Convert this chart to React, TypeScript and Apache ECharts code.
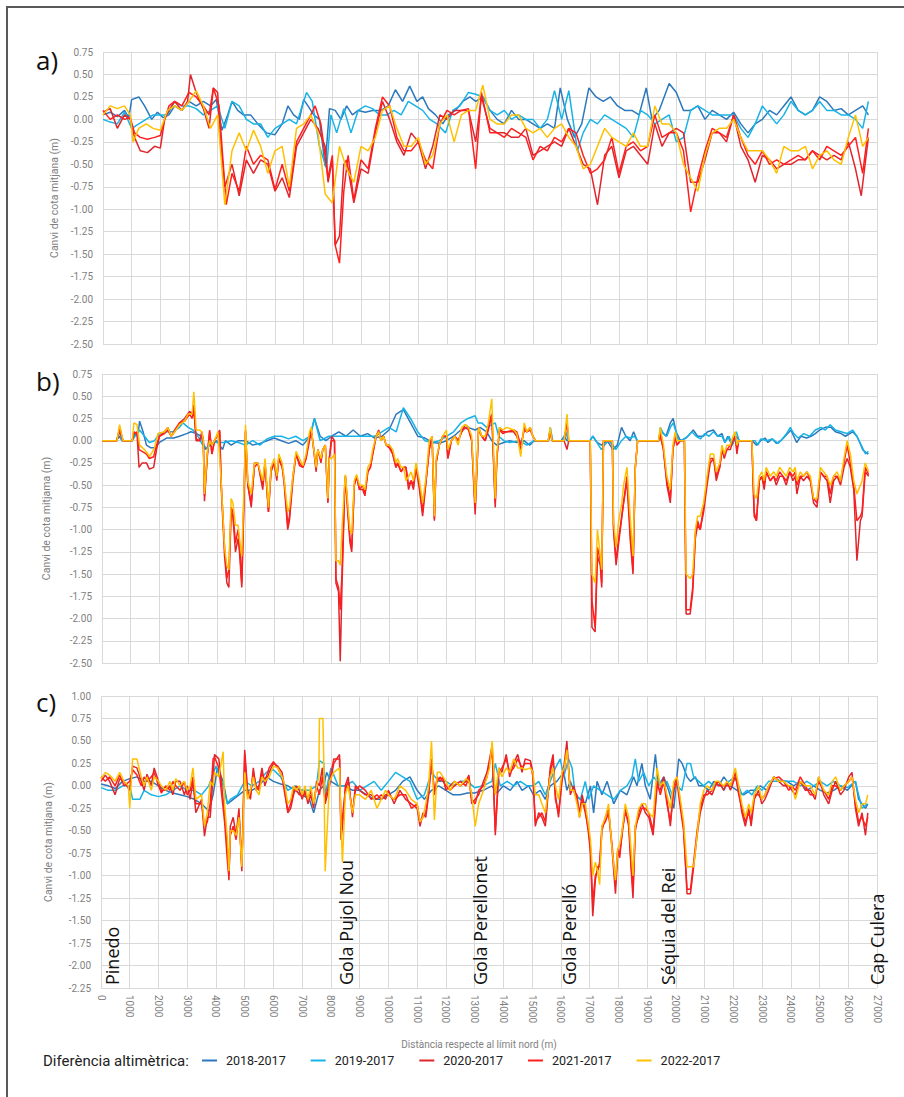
import React, { useEffect, useRef } from "react";
import * as echarts from "echarts";

type Pt = [number, number];

const seriesNames = ["2018-2017", "2019-2017", "2020-2017", "2021-2017", "2022-2017"];
const seriesColors = ["#2b78bd", "#17b3e6", "#e0262c", "#ff1f1f", "#ffc000"];
const panelLabels = ["a)", "b)", "c)"];
const yAxisNames = ["Canvi de cota mitjana (m)", "Canvi de cota mitjama (m)", "Canvi de cota mitjana (m)"];
const yMins = [-2.5, -2.5, -2.25];
const yMaxs = [0.75, 0.75, 1.0];
const placeNames = ["Pinedo", "Gola Pujol Nou", "Gola Perellonet", "Gola Perelló", "Séquia del Rei", "Cap Culera"];
const placeDistances = [400, 8520, 13170, 16300, 19740, 27000];

// ---------- panel a ----------
const a2018: Pt[] = [[0,0.05],[250,0.08],[500,0.03],[750,0.1],[900,0.02],[1000,0.22],[1250,0.25],[1450,0.15],[1700,0.0],[1900,0.08],[2100,0.02],[2300,0.05],[2500,0.15],[2750,0.1],[3000,0.2],[3250,0.15],[3500,0.2],[3750,0.15],[3950,0.22],[4150,-0.12],[4350,0.05],[4500,0.2],[4700,0.1],[4900,0.05],[5150,0.05],[5400,-0.05],[5700,-0.15],[6000,-0.17],[6250,-0.05],[6450,0.15],[6650,0.05],[6850,0.0],[7000,0.22],[7150,0.15],[7350,0.05],[7550,0.0],[7750,-0.52],[7900,0.12],[8100,0.1],[8300,0.0],[8500,0.15],[8700,0.05],[8900,0.1],[9150,0.08],[9400,0.1],[9700,0.1],[9950,0.15],[10200,0.33],[10450,0.2],[10700,0.37],[10950,0.2],[11150,0.25],[11350,0.12],[11600,0.05],[11850,-0.05],[12050,0.05],[12300,0.1],[12550,0.2],[12800,0.25],[13000,0.2],[13250,0.25],[13500,0.1],[13750,0.0],[14000,-0.05],[14250,0.1],[14500,0.0],[14750,0.0],[15000,-0.05],[15250,-0.1],[15500,-0.05],[15750,-0.1],[15950,0.35],[16200,0.0],[16450,-0.2],[16700,-0.05],[16950,0.35],[17200,0.25],[17450,0.2],[17700,0.25],[17950,0.15],[18200,0.1],[18450,0.1],[18700,0.05],[18950,0.35],[19150,0.0],[19400,0.1],[19750,0.4],[20000,0.3],[20250,0.1],[20500,0.1],[20750,0.15],[21000,0.0],[21250,0.1],[21500,0.05],[21750,0.0],[22000,0.08],[22250,-0.05],[22500,-0.15],[22750,-0.05],[23000,0.0],[23250,0.1],[23500,0.05],[23750,0.15],[24000,0.25],[24250,0.1],[24500,0.05],[24750,0.1],[25000,0.25],[25250,0.2],[25500,0.1],[25750,0.12],[26000,0.05],[26250,0.1],[26500,0.15],[26700,0.05]];
const a2019: Pt[] = [[0,0.0],[250,-0.03],[500,-0.05],[750,0.08],[1000,-0.1],[1250,-0.05],[1500,0.0],[1750,0.05],[2000,0.05],[2250,0.05],[2500,0.2],[2750,0.15],[3000,0.15],[3250,0.12],[3500,0.05],[3750,0.1],[4000,0.15],[4250,-0.1],[4500,0.2],[4750,0.15],[5000,0.0],[5250,-0.05],[5500,-0.05],[5750,-0.2],[6000,-0.1],[6250,-0.05],[6500,0.0],[6750,-0.05],[7000,0.2],[7100,0.3],[7300,0.2],[7550,-0.3],[7800,-0.55],[7950,0.05],[8150,-0.15],[8400,0.12],[8650,-0.15],[8900,0.1],[9150,0.15],[9400,0.12],[9650,0.05],[9900,0.05],[10150,0.1],[10400,0.05],[10650,0.2],[10900,0.15],[11150,0.1],[11400,0.0],[11650,-0.05],[11950,-0.15],[12200,0.1],[12450,0.15],[12750,0.3],[13000,0.28],[13250,0.25],[13500,0.1],[13750,0.05],[14000,0.1],[14250,0.0],[14500,0.05],[14750,0.0],[15000,0.0],[15250,-0.1],[15500,0.0],[15750,0.32],[16000,0.0],[16250,0.32],[16550,-0.35],[16750,-0.15],[17000,0.0],[17250,-0.05],[17500,0.05],[17750,0.0],[18000,-0.05],[18250,-0.1],[18500,-0.2],[18750,0.1],[19000,0.05],[19250,-0.05],[19500,0.0],[19750,0.05],[20000,-0.25],[20250,-0.2],[20500,0.1],[20750,0.15],[21000,0.1],[21250,0.05],[21500,0.05],[21750,0.05],[22000,0.05],[22250,-0.1],[22500,-0.2],[22750,-0.05],[23000,0.15],[23250,0.05],[23500,-0.05],[23750,0.05],[24000,0.2],[24250,0.1],[24500,0.05],[24750,0.1],[25000,0.2],[25250,0.1],[25500,0.1],[25750,0.05],[26000,0.05],[26250,0.0],[26500,-0.1],[26700,0.2]];
const a2020: Pt[] = [[0,0.08],[250,0.12],[500,-0.1],[750,0.05],[950,0.0],[1100,-0.2],[1300,-0.35],[1550,-0.37],[1800,-0.3],[2000,-0.32],[2150,0.0],[2300,0.1],[2500,0.2],[2750,0.1],[2950,0.2],[3050,0.5],[3250,0.3],[3500,0.12],[3700,-0.1],[3850,0.35],[4000,0.3],[4100,-0.25],[4250,-0.75],[4500,-0.5],[4750,-0.85],[5000,-0.45],[5250,-0.6],[5500,-0.45],[5750,-0.5],[6000,-0.8],[6250,-0.65],[6500,-0.87],[6750,-0.3],[7000,-0.15],[7250,0.0],[7500,-0.1],[7750,-0.3],[7850,-0.7],[8000,-0.45],[8100,-1.4],[8250,-1.3],[8400,-0.5],[8500,-0.45],[8750,-0.93],[9000,-0.55],[9250,-0.6],[9500,-0.15],[9750,0.2],[10000,0.0],[10250,-0.25],[10500,-0.4],[10750,-0.15],[11000,-0.25],[11250,-0.55],[11500,-0.3],[11750,0.05],[12000,0.0],[12250,0.1],[12500,0.1],[12750,0.1],[13000,-0.25],[13200,0.25],[13500,-0.1],[13750,-0.15],[14000,-0.15],[14250,-0.2],[14500,-0.2],[14750,-0.1],[15000,-0.4],[15250,-0.35],[15500,-0.3],[15750,-0.25],[16000,-0.3],[16250,-0.1],[16500,-0.3],[16750,-0.5],[17000,-0.55],[17250,-0.95],[17500,-0.4],[17750,-0.3],[18000,-0.65],[18250,-0.35],[18500,-0.3],[18750,-0.4],[19000,-0.5],[19250,-0.05],[19500,-0.3],[19750,-0.15],[20000,-0.1],[20250,-0.15],[20500,-0.7],[20750,-0.7],[21000,-0.45],[21250,-0.15],[21500,-0.15],[21750,-0.25],[22000,0.05],[22250,-0.3],[22500,-0.45],[22750,-0.7],[23000,-0.4],[23250,-0.45],[23500,-0.55],[23750,-0.5],[24000,-0.5],[24250,-0.45],[24500,-0.45],[24750,-0.35],[25000,-0.4],[25250,-0.45],[25500,-0.4],[25750,-0.45],[26000,-0.25],[26250,-0.55],[26450,-0.85],[26700,-0.2]];
const a2021: Pt[] = [[0,0.1],[250,0.0],[500,0.05],[750,0.0],[950,0.02],[1100,-0.15],[1300,-0.2],[1550,-0.22],[1800,-0.2],[2000,-0.18],[2150,0.0],[2300,0.15],[2500,0.2],[2750,0.15],[3000,0.3],[3250,0.25],[3500,0.15],[3700,0.05],[3850,0.35],[4050,0.15],[4150,-0.3],[4300,-0.95],[4500,-0.6],[4750,-0.8],[5000,-0.3],[5250,-0.5],[5500,-0.4],[5750,-0.45],[6000,-0.78],[6250,-0.5],[6500,-0.8],[6750,-0.25],[7000,-0.1],[7250,0.05],[7400,0.15],[7600,-0.05],[7850,-0.65],[8000,-0.4],[8100,-1.4],[8250,-1.6],[8400,-0.8],[8550,-0.4],[8750,-0.9],[9000,-0.45],[9250,-0.55],[9500,-0.1],[9750,0.25],[10000,0.15],[10250,-0.2],[10500,-0.35],[10750,-0.35],[11000,-0.25],[11250,-0.45],[11500,-0.55],[11750,-0.05],[12000,0.1],[12250,0.05],[12500,0.1],[12750,0.12],[13000,-0.55],[13200,0.3],[13500,-0.15],[13750,-0.15],[14000,-0.2],[14250,-0.1],[14500,-0.15],[14750,-0.2],[15000,-0.45],[15250,-0.3],[15500,-0.35],[15750,-0.2],[16000,-0.25],[16250,-0.1],[16500,-0.15],[16750,-0.4],[17000,-0.6],[17250,-0.55],[17500,-0.45],[17750,-0.2],[18000,-0.6],[18250,-0.3],[18500,-0.25],[18750,-0.35],[19000,-0.3],[19250,0.05],[19500,-0.2],[19750,-0.15],[20000,-0.15],[20250,-0.35],[20500,-1.03],[20750,-0.65],[21000,-0.35],[21250,-0.1],[21500,-0.15],[21750,-0.2],[22000,0.05],[22250,-0.2],[22500,-0.4],[22750,-0.5],[23000,-0.35],[23250,-0.5],[23500,-0.45],[23750,-0.5],[24000,-0.45],[24250,-0.4],[24500,-0.45],[24750,-0.35],[25000,-0.45],[25250,-0.3],[25500,-0.35],[25750,-0.4],[26000,-0.3],[26250,-0.2],[26500,-0.6],[26700,-0.1]];
const a2022: Pt[] = [[0,0.05],[250,0.15],[500,0.12],[750,0.15],[950,0.05],[1050,-0.25],[1250,-0.1],[1500,-0.05],[1750,-0.1],[2000,-0.12],[2250,0.1],[2500,0.15],[2750,0.1],[3000,0.2],[3250,0.32],[3500,0.15],[3750,-0.1],[4000,0.05],[4250,-0.95],[4500,-0.35],[4750,-0.15],[5000,-0.35],[5250,-0.12],[5500,-0.3],[5750,-0.6],[6000,-0.35],[6250,-0.3],[6500,-0.75],[6750,-0.1],[7000,-0.05],[7250,0.05],[7500,-0.15],[7750,-0.83],[8000,-0.93],[8250,-0.3],[8500,-0.55],[8750,-0.7],[9000,-0.3],[9250,-0.35],[9500,-0.2],[9750,0.1],[10000,0.15],[10250,-0.1],[10500,-0.3],[10750,-0.3],[11000,-0.2],[11250,-0.5],[11500,-0.4],[11750,-0.05],[12000,0.05],[12250,-0.25],[12500,0.05],[12750,0.1],[13000,0.1],[13250,0.38],[13500,0.0],[13750,-0.05],[14000,-0.05],[14250,0.05],[14500,0.05],[14750,-0.1],[15000,-0.15],[15250,-0.1],[15500,-0.2],[15750,-0.1],[16000,-0.05],[16250,-0.2],[16500,-0.3],[16750,-0.55],[17000,-0.5],[17250,-0.3],[17500,-0.1],[17750,-0.2],[18000,-0.25],[18250,-0.3],[18500,-0.15],[18750,-0.3],[19000,-0.3],[19250,0.15],[19500,-0.05],[19750,-0.05],[20000,-0.15],[20250,-0.5],[20500,-0.65],[20750,-0.8],[21000,-0.4],[21250,-0.15],[21500,-0.1],[21750,-0.1],[22000,0.0],[22250,-0.2],[22500,-0.35],[22750,-0.35],[23000,-0.35],[23250,-0.45],[23500,-0.6],[23750,-0.3],[24000,-0.35],[24250,-0.35],[24500,-0.3],[24750,-0.55],[25000,-0.4],[25250,-0.35],[25500,-0.45],[25750,-0.5],[26000,-0.2],[26250,0.05],[26500,-0.3],[26700,-0.2]];

// ---------- panel b ----------
const b2018: Pt[] = [[0,0],[500,0],[600,0.05],[700,0],[1050,0],[1150,0.08],[1250,0.05],[1310,0.22],[1430,0.1],[1550,-0.05],[1700,-0.08],[1850,-0.08],[2000,-0.02],[2250,0.03],[2500,0.03],[2700,0.05],[2950,0.08],[3100,0.1],[3300,0.08],[3450,0.05],[3600,-0.1],[3750,-0.05],[4000,0.0],[4200,-0.1],[4300,0.0],[4500,-0.05],[4750,0.0],[5000,0.0],[5250,-0.05],[5500,-0.03],[5750,0.0],[6000,0.03],[6250,0.0],[6500,-0.03],[6750,0.0],[7000,-0.05],[7250,0.05],[7400,0.25],[7600,0.05],[7800,0.0],[8000,0.05],[8250,0.1],[8500,0.05],[8750,0.12],[9000,0.05],[9250,0.08],[9500,0.03],[9750,0.05],[10000,0.12],[10250,0.3],[10500,0.35],[10750,0.2],[11000,0.05],[11250,0.03],[11500,-0.02],[11750,-0.03],[12000,0.0],[12250,0.05],[12500,0.12],[12750,0.15],[13000,0.12],[13170,0.15],[13400,0.1],[13580,0.0],[13750,-0.05],[14000,-0.02],[14200,0.0],[14450,-0.02],[14700,0.0],[14900,-0.05],[15050,0.0],[15550,0],[15620,0.1],[15700,0],[16000,0],[16100,0.05],[16200,0],[17000,0],[17100,0.05],[17250,-0.02],[17400,-0.05],[17600,0.0],[17800,-0.1],[17950,-0.05],[18100,0.15],[18250,0.05],[18400,0.0],[18520,0.1],[18650,0.0],[19400,0],[19500,0.1],[19650,0.05],[19800,0.2],[19900,0.25],[20000,0.1],[20150,0.0],[20350,0.03],[20500,0.08],[20600,0.12],[20750,0.05],[20950,0.05],[21100,0.1],[21300,0.12],[21450,0.05],[21600,0.08],[21700,-0.02],[21800,0.05],[21950,-0.05],[22100,0.05],[22200,0],[22650,0],[22800,-0.05],[22950,0.0],[23100,0.03],[23200,-0.02],[23350,0.02],[23500,-0.03],[23650,0.0],[23800,0.05],[24000,0.12],[24100,0.05],[24200,-0.02],[24350,0.05],[24550,0.03],[24700,0.05],[24850,0.08],[25000,0.12],[25200,0.15],[25400,0.15],[25550,0.1],[25750,0.08],[25900,0.05],[26050,0.08],[26150,0.1],[26300,0.05],[26400,-0.02],[26500,-0.1],[26600,-0.13],[26700,-0.15]];
const b2019: Pt[] = [[0,0],[500,0],[600,0.1],[700,0],[1050,0],[1150,0.05],[1250,0.08],[1310,0.12],[1480,0.05],[1650,-0.02],[1830,0.0],[2000,0.08],[2250,0.1],[2470,0.1],[2700,0.15],[2820,0.2],[3000,0.15],[3170,0.12],[3340,0.05],[3510,-0.05],[3650,-0.08],[3900,-0.02],[4250,-0.02],[4500,0.0],[4750,-0.02],[5000,-0.05],[5250,0.0],[5500,-0.05],[5750,0.02],[6000,0.05],[6250,0.05],[6500,0.02],[6750,0.05],[7000,0.0],[7250,0.05],[7400,0.25],[7600,0.0],[7900,0.05],[8250,0.05],[8500,0.05],[8750,0.05],[9000,0.05],[9250,0.05],[9500,0.05],[9750,0.1],[10000,0.15],[10250,0.1],[10500,0.37],[10750,0.25],[11000,0.1],[11250,0.0],[11500,-0.02],[11750,0.0],[12000,0.05],[12250,0.1],[12500,0.2],[12750,0.25],[13000,0.28],[13100,0.2],[13230,0.2],[13400,0.15],[13700,0.2],[13820,0.05],[14000,0.0],[14200,-0.02],[14550,0.0],[14800,-0.05],[15050,0.0],[15550,0],[15620,0.15],[15700,0],[16050,0],[16150,0.1],[16250,0],[17000,0],[17100,0.05],[17200,0.0],[17300,-0.05],[17400,-0.1],[17500,-0.05],[17650,0.0],[17800,-0.05],[17900,-0.1],[18000,-0.05],[18100,0.0],[18250,0.05],[18400,0.03],[18550,0.05],[18650,0.0],[19400,0],[19450,0.15],[19560,0.08],[19680,0.05],[19800,0.15],[19900,0.2],[20000,0.1],[20080,0.0],[20200,0.0],[20400,0.05],[20550,0.1],[20700,0.05],[20850,0.02],[21000,0.08],[21150,0.05],[21300,0.1],[21450,0.05],[21600,0.05],[21700,-0.02],[21850,0.05],[21950,-0.05],[22100,0.1],[22200,0],[22650,0],[22750,0.0],[22850,-0.05],[22950,0.02],[23150,0.0],[23350,0.02],[23550,-0.03],[23700,0.02],[23850,0.08],[23980,0.15],[24100,0.08],[24250,0.03],[24450,0.08],[24650,0.05],[24850,0.12],[25050,0.15],[25200,0.12],[25370,0.18],[25550,0.12],[25750,0.1],[25950,0.08],[26150,0.12],[26300,0.05],[26450,-0.05],[26600,-0.15],[26700,-0.12]];
const b2020: Pt[] = [[0,0],[520,0],[615,0.15],[730,0],[1055,0],[1110,0.1],[1220,0.08],[1290,-0.3],[1400,-0.25],[1550,-0.25],[1650,-0.32],[1800,-0.3],[1900,-0.1],[2000,0.05],[2180,0.1],[2290,0.15],[2410,0.05],[2530,0.1],[2700,0.2],[2880,0.25],[3050,0.33],[3140,0.3],[3200,0.4],[3280,0.0],[3400,0.0],[3480,0.1],[3530,0.0],[3570,-0.68],[3670,-0.15],[3750,0.1],[3830,-0.15],[3920,0.0],[4100,0.12],[4150,-0.5],[4270,-1.3],[4350,-1.6],[4420,-1.65],[4500,-0.8],[4560,-0.85],[4650,-1.25],[4740,-1.1],[4790,-1.25],[4870,-1.65],[4960,-0.5],[5000,0.1],[5080,-0.5],[5200,-0.75],[5310,-0.25],[5430,-0.25],[5600,-0.55],[5680,-0.25],[5800,-0.8],[5890,-0.35],[6000,-0.25],[6090,-0.45],[6160,-0.2],[6280,-0.3],[6350,-0.5],[6470,-1.0],[6530,-0.9],[6650,-0.45],[6760,-0.15],[6880,-0.25],[7000,-0.3],[7110,-0.2],[7230,0.0],[7290,0.1],[7340,0.0],[7460,-0.35],[7520,-0.1],[7630,-0.25],[7690,-0.1],[7780,-0.05],[7870,-0.7],[7920,-0.2],[8000,0.05],[8100,0.0],[8150,-1.6],[8240,-1.7],[8300,-2.48],[8360,-1.65],[8450,-0.6],[8480,-0.4],[8560,-0.8],[8640,-1.15],[8700,-1.25],[8790,-0.5],[8870,-0.4],[8970,-0.55],[9080,-0.55],[9160,-0.62],[9260,-0.35],[9350,-0.3],[9430,-0.15],[9550,0.05],[9640,0.12],[9720,0.0],[9810,0.05],[9900,-0.05],[10010,-0.05],[10130,-0.15],[10240,-0.3],[10300,-0.25],[10420,-0.35],[10510,-0.3],[10590,-0.3],[10680,-0.55],[10770,-0.45],[10850,-0.55],[10940,-0.3],[11060,-0.55],[11170,-0.85],[11290,-0.45],[11400,-0.1],[11500,0.05],[11580,-0.9],[11640,-0.25],[11750,-0.05],[11870,0.05],[12000,0.05],[12050,-0.2],[12170,0.0],[12290,0.05],[12410,0.0],[12530,0.1],[12650,0.18],[12770,0.15],[12880,0.0],[13000,-0.83],[13120,0.15],[13230,0.05],[13350,0.0],[13460,0.15],[13580,0.3],[13700,-0.75],[13755,-0.2],[13850,0.15],[13960,0.1],[14100,0.1],[14340,0.1],[14450,0.05],[14590,-0.1],[14710,0.15],[14800,0.1],[14920,0.12],[15010,0.05],[15100,0],[15550,0],[15610,0.1],[15680,0],[16100,0],[16200,-0.1],[16260,0],[17010,0],[17070,-2.1],[17180,-2.15],[17260,-1.3],[17360,-1.4],[17410,-1.65],[17470,0],[17780,0],[17820,-1.0],[17910,-1.4],[18000,-1.15],[18170,-0.7],[18290,-0.45],[18400,-1.1],[18500,-1.5],[18580,-0.3],[18660,0],[19390,0],[19450,0.05],[19560,-0.1],[19680,-0.5],[19800,-0.7],[19890,-0.1],[19970,0.05],[20030,-0.05],[20150,0.0],[20290,0.0],[20350,-1.95],[20490,-1.95],[20580,-1.7],[20670,-1.1],[20750,-0.95],[20840,-1.0],[20960,-0.8],[21080,-0.5],[21190,-0.25],[21310,-0.2],[21400,-0.45],[21520,-0.3],[21600,-0.1],[21680,-0.2],[21770,-0.1],[21890,-0.1],[21980,0.0],[22060,0.05],[22120,-0.15],[22180,0],[22640,0],[22720,-0.85],[22800,-0.9],[22900,-0.45],[22990,-0.4],[23070,-0.55],[23140,-0.35],[23280,-0.45],[23400,-0.4],[23490,-0.5],[23610,-0.4],[23720,-0.4],[23840,-0.5],[23960,-0.35],[24070,-0.45],[24150,-0.4],[24210,-0.6],[24330,-0.4],[24440,-0.45],[24560,-0.4],[24680,-0.45],[24790,-0.7],[24910,-0.75],[25030,-0.35],[25140,-0.4],[25260,-0.45],[25370,-0.7],[25490,-0.45],[25610,-0.4],[25730,-0.5],[25850,-0.3],[25960,-0.2],[26070,-0.3],[26190,-0.55],[26300,-1.35],[26420,-0.9],[26480,-0.85],[26590,-0.35],[26710,-0.4]];
const b2021: Pt[] = [[0,0],[520,0],[615,0.12],[730,0],[1055,0],[1110,0.08],[1220,0.1],[1290,-0.1],[1400,-0.12],[1550,-0.15],[1650,-0.2],[1800,-0.18],[1900,-0.05],[2000,0.05],[2180,0.08],[2290,0.12],[2410,0.05],[2530,0.12],[2700,0.2],[2880,0.22],[3050,0.3],[3140,0.25],[3200,0.35],[3280,0.02],[3400,0.0],[3480,0.08],[3530,0.0],[3570,-0.62],[3670,-0.18],[3750,0.12],[3830,-0.15],[3920,0.0],[4100,0.1],[4150,-0.45],[4270,-1.2],[4350,-1.55],[4420,-1.45],[4500,-0.75],[4560,-0.8],[4650,-1.15],[4740,-1.0],[4790,-1.15],[4870,-1.6],[4960,-0.45],[5000,0.12],[5080,-0.5],[5200,-0.7],[5310,-0.3],[5430,-0.25],[5600,-0.5],[5680,-0.25],[5800,-0.8],[5890,-0.3],[6000,-0.25],[6090,-0.4],[6160,-0.2],[6280,-0.3],[6350,-0.45],[6470,-0.95],[6530,-0.85],[6650,-0.4],[6760,-0.15],[6880,-0.28],[7000,-0.3],[7110,-0.2],[7230,0.05],[7290,0.12],[7340,0.0],[7460,-0.3],[7520,-0.1],[7630,-0.22],[7690,-0.1],[7780,-0.05],[7870,-0.68],[7920,-0.2],[8000,0.0],[8100,0.0],[8150,-1.55],[8240,-1.65],[8300,-1.9],[8360,-1.5],[8450,-0.55],[8480,-0.4],[8560,-0.75],[8640,-1.1],[8700,-1.2],[8790,-0.5],[8870,-0.4],[8970,-0.55],[9080,-0.5],[9160,-0.6],[9260,-0.35],[9350,-0.3],[9430,-0.15],[9550,0.05],[9640,0.1],[9720,0.0],[9810,0.05],[9900,-0.05],[10010,-0.08],[10130,-0.15],[10240,-0.3],[10300,-0.25],[10420,-0.35],[10510,-0.3],[10590,-0.3],[10680,-0.5],[10770,-0.45],[10850,-0.5],[10940,-0.3],[11060,-0.5],[11170,-0.8],[11290,-0.45],[11400,-0.1],[11500,0.05],[11580,-0.88],[11640,-0.25],[11750,-0.05],[11870,0.05],[12000,0.05],[12050,-0.2],[12170,0.0],[12290,0.05],[12410,0.0],[12530,0.1],[12650,0.15],[12770,0.12],[12880,0.0],[13000,-0.75],[13120,0.12],[13230,0.05],[13350,0.0],[13460,0.12],[13580,0.3],[13700,-0.7],[13755,-0.2],[13850,0.12],[13960,0.08],[14100,0.1],[14340,0.12],[14450,0.1],[14590,-0.05],[14710,0.12],[14800,0.1],[14920,0.15],[15010,0.05],[15100,0],[15550,0],[15610,0.12],[15680,0],[16100,0],[16200,0.2],[16260,0],[17010,0],[17070,-1.8],[17180,-2.1],[17260,-1.2],[17360,-1.35],[17410,-1.6],[17470,0],[17780,0],[17820,-0.95],[17910,-1.35],[18000,-1.1],[18170,-0.7],[18290,-0.4],[18400,-1.0],[18500,-1.45],[18580,-0.3],[18660,0],[19390,0],[19450,0.1],[19560,-0.1],[19680,-0.45],[19800,-0.65],[19890,-0.1],[19970,0.05],[20030,-0.05],[20150,0.0],[20290,0.0],[20350,-1.9],[20490,-1.9],[20580,-1.65],[20670,-1.05],[20750,-0.9],[20840,-1.0],[20960,-0.75],[21080,-0.45],[21190,-0.2],[21310,-0.2],[21400,-0.4],[21520,-0.3],[21600,-0.1],[21680,-0.15],[21770,-0.1],[21890,-0.05],[21980,0.0],[22060,0.05],[22120,-0.1],[22180,0],[22640,0],[22720,-0.8],[22800,-0.9],[22900,-0.45],[22990,-0.4],[23070,-0.5],[23140,-0.35],[23280,-0.45],[23400,-0.4],[23490,-0.45],[23610,-0.35],[23720,-0.4],[23840,-0.45],[23960,-0.35],[24070,-0.4],[24150,-0.35],[24210,-0.5],[24330,-0.4],[24440,-0.4],[24560,-0.35],[24680,-0.45],[24790,-0.65],[24910,-0.7],[25030,-0.35],[25140,-0.4],[25260,-0.4],[25370,-0.6],[25490,-0.4],[25610,-0.4],[25730,-0.45],[25850,-0.25],[25960,-0.05],[26070,-0.25],[26190,-0.5],[26300,-0.9],[26420,-0.85],[26480,-0.8],[26590,-0.3],[26710,-0.38]];
const b2022: Pt[] = [[0,0],[520,0],[615,0.18],[730,0],[1055,0],[1110,0.2],[1220,0.18],[1310,-0.05],[1480,-0.1],[1600,-0.15],[1660,-0.18],[1830,-0.08],[1950,0.08],[2180,0.1],[2290,0.15],[2410,0.05],[2530,0.1],[2700,0.18],[2880,0.22],[3000,0.3],[3140,0.3],[3200,0.55],[3280,0.12],[3400,0.12],[3480,0.1],[3530,0.0],[3570,-0.6],[3670,-0.12],[3750,0.0],[3830,-0.05],[3920,0.0],[4040,0.1],[4150,-0.45],[4270,-1.2],[4350,-1.4],[4420,-1.45],[4500,-0.65],[4560,-0.7],[4650,-0.95],[4740,-0.95],[4790,-1.1],[4870,-1.3],[4960,-0.4],[5000,0.18],[5080,-0.45],[5200,-0.6],[5310,-0.25],[5430,-0.25],[5600,-0.45],[5680,-0.2],[5800,-0.75],[5890,-0.3],[6000,-0.2],[6090,-0.4],[6160,-0.15],[6280,-0.25],[6350,-0.45],[6470,-0.8],[6530,-0.75],[6650,-0.4],[6760,-0.12],[6880,-0.2],[7000,-0.28],[7110,-0.15],[7230,0.1],[7290,0.15],[7340,0.0],[7460,-0.3],[7520,-0.1],[7630,-0.2],[7690,-0.1],[7780,-0.05],[7870,-0.65],[7920,-0.2],[8000,-0.2],[8100,-0.15],[8150,-1.35],[8240,-1.35],[8300,-1.4],[8360,-1.0],[8450,-0.5],[8480,-0.38],[8560,-0.7],[8640,-1.0],[8700,-1.05],[8790,-0.45],[8870,-0.38],[8970,-0.5],[9080,-0.5],[9160,-0.55],[9260,-0.3],[9350,-0.25],[9430,-0.1],[9550,0.05],[9640,0.1],[9720,0.0],[9810,0.05],[9900,-0.05],[10010,-0.05],[10130,-0.1],[10240,-0.25],[10300,-0.2],[10420,-0.3],[10510,-0.3],[10590,-0.45],[10680,-0.4],[10770,-0.35],[10850,-0.45],[10940,-0.25],[11060,-0.45],[11170,-0.7],[11290,-0.4],[11400,0.0],[11500,0.05],[11580,-0.85],[11640,-0.2],[11750,-0.05],[11870,0.05],[12000,0.12],[12050,-0.1],[12170,0.0],[12290,0.05],[12410,-0.05],[12530,0.15],[12650,0.18],[12770,0.15],[12880,0.05],[13000,-0.7],[13120,0.15],[13230,0.05],[13350,0.05],[13460,0.2],[13580,0.47],[13700,-0.65],[13755,-0.15],[13850,0.15],[13960,0.12],[14100,0.15],[14340,0.12],[14450,0.08],[14590,-0.18],[14710,0.2],[14800,0.1],[14920,0.15],[15010,0.05],[15100,0],[15550,0],[15610,0.15],[15680,0],[16100,0],[16200,0.3],[16260,0],[17010,0],[17070,-1.5],[17180,-1.6],[17260,-1.0],[17360,-1.3],[17410,-1.45],[17470,0],[17780,0],[17820,-0.9],[17910,-1.2],[18000,-0.9],[18110,-0.7],[18170,-0.5],[18290,-0.3],[18400,-0.85],[18500,-1.3],[18580,-0.3],[18660,0],[19390,0],[19450,0.15],[19560,-0.05],[19680,-0.4],[19800,-0.55],[19890,-0.05],[19970,0.1],[20030,0.0],[20150,0.0],[20290,0.0],[20350,-1.5],[20490,-1.55],[20580,-1.5],[20670,-1.0],[20750,-0.85],[20840,-0.85],[20960,-0.7],[21080,-0.4],[21190,-0.15],[21310,-0.15],[21400,-0.35],[21520,-0.25],[21600,-0.05],[21680,-0.15],[21770,-0.05],[21890,-0.05],[21980,0.05],[22060,0.1],[22120,-0.05],[22180,0],[22640,0],[22720,-0.6],[22800,-0.65],[22900,-0.4],[22990,-0.35],[23070,-0.45],[23140,-0.3],[23280,-0.4],[23400,-0.35],[23490,-0.4],[23610,-0.3],[23720,-0.35],[23840,-0.4],[23960,-0.3],[24070,-0.35],[24150,-0.3],[24210,-0.45],[24330,-0.35],[24440,-0.4],[24560,-0.35],[24680,-0.4],[24790,-0.65],[24910,-0.65],[25030,-0.3],[25140,-0.35],[25260,-0.4],[25370,-0.5],[25490,-0.4],[25610,-0.35],[25730,-0.45],[25850,-0.2],[25960,0.0],[26070,-0.15],[26190,-0.45],[26300,-0.6],[26420,-0.5],[26480,-0.45],[26590,-0.25],[26710,-0.35]];

// ---------- panel c ----------
const c2018: Pt[] = [[0,0.02],[250,0.0],[500,-0.03],[750,0.05],[1000,0.08],[1250,0.1],[1500,0.05],[1750,0.05],[2000,0.0],[2250,-0.05],[2500,-0.08],[2750,-0.1],[3000,-0.12],[3250,-0.15],[3500,-0.2],[3750,-0.28],[3900,-0.1],[4050,0.2],[4250,0.05],[4400,-0.2],[4600,-0.15],[4800,-0.1],[5000,-0.05],[5250,-0.05],[5500,0.0],[5750,0.1],[6000,0.05],[6250,0.02],[6500,0.0],[6750,-0.05],[7000,-0.1],[7250,-0.15],[7400,-0.3],[7600,-0.05],[7750,0.0],[7850,0.15],[8000,0.05],[8250,0.0],[8500,0.0],[8750,-0.05],[9000,-0.05],[9250,-0.1],[9500,-0.15],[9750,-0.15],[10000,-0.1],[10250,-0.05],[10500,0.05],[10750,0.1],[11000,-0.05],[11250,-0.15],[11500,-0.05],[11750,0.0],[12000,-0.05],[12250,-0.1],[12500,-0.1],[12750,-0.08],[13000,-0.08],[13300,-0.05],[13600,0.0],[13780,-0.08],[14000,0.0],[14240,-0.05],[14470,0.05],[14650,-0.05],[14880,0.0],[15050,-0.1],[15280,-0.05],[15460,-0.15],[15630,0.0],[15860,0.05],[16100,0.15],[16210,-0.05],[16330,0.05],[16500,-0.1],[16680,-0.15],[16850,-0.2],[17030,0.0],[17140,-0.3],[17260,0.05],[17430,-0.1],[17610,0.05],[17840,-0.2],[18070,-0.05],[18300,-0.1],[18530,0.1],[18650,0.0],[18820,0.25],[18940,0.0],[19110,-0.15],[19290,0.35],[19400,0.0],[19580,0.1],[19750,-0.05],[19930,-0.25],[20100,0.3],[20220,0.25],[20390,0.1],[20510,0.05],[20680,0.1],[20800,0.0],[20970,0.0],[21140,-0.05],[21320,0.05],[21490,0.0],[21670,0.1],[21900,0.0],[22130,-0.05],[22360,-0.1],[22590,-0.05],[22770,-0.05],[22940,0.0],[23170,-0.05],[23410,0.1],[23640,0.05],[23870,0.05],[24100,0.0],[24330,0.05],[24560,-0.05],[24800,0.0],[25030,-0.05],[25260,-0.08],[25490,-0.05],[25730,0.0],[25970,-0.05],[26250,0.05],[26360,-0.15],[26480,-0.2],[26600,-0.25],[26680,-0.2]];
const c2019: Pt[] = [[0,-0.02],[250,-0.05],[500,-0.05],[750,0.0],[1000,0.0],[1100,-0.15],[1350,-0.15],[1500,-0.05],[1750,-0.1],[2000,-0.12],[2250,-0.1],[2500,-0.05],[2750,0.0],[3000,-0.05],[3250,-0.05],[3500,-0.1],[3750,0.0],[4000,0.22],[4250,0.0],[4400,-0.2],[4500,-0.15],[4750,-0.1],[5000,0.05],[5250,0.0],[5500,0.05],[5750,0.15],[6000,0.18],[6250,0.1],[6500,-0.05],[6750,0.0],[7000,-0.05],[7250,-0.05],[7500,0.0],[7600,0.28],[7750,0.25],[7800,-0.1],[8000,0.2],[8250,0.0],[8500,0.0],[8750,0.05],[9000,-0.05],[9250,0.0],[9500,0.05],[9750,-0.05],[10000,0.05],[10250,0.15],[10500,0.1],[10750,0.05],[11000,-0.15],[11250,-0.1],[11500,0.15],[11750,0.05],[12000,0.05],[12250,0.0],[12500,0.05],[12750,0.05],[13000,-0.02],[13300,0.0],[13600,0.05],[13720,0.25],[13890,0.0],[14130,0.05],[14360,0.0],[14590,0.05],[14820,0.0],[15050,0.0],[15230,0.05],[15460,-0.1],[15630,0.05],[15810,0.2],[15980,0.3],[16100,0.1],[16270,0.3],[16390,0.2],[16500,-0.1],[16680,-0.15],[16850,0.05],[16970,-0.15],[17140,0.0],[17370,-0.05],[17610,-0.1],[17840,-0.15],[18070,-0.05],[18300,0.0],[18480,0.1],[18590,0.3],[18710,0.05],[18880,0.15],[19060,0.0],[19230,0.1],[19460,0.0],[19690,0.05],[19870,-0.1],[20040,0.0],[20210,-0.05],[20390,0.25],[20510,0.25],[20620,0.1],[20800,0.05],[20970,0.0],[21140,0.05],[21320,0.0],[21490,0.05],[21670,-0.05],[21840,0.05],[22070,0.1],[22300,-0.1],[22480,-0.05],[22650,-0.1],[22830,0.0],[22990,-0.05],[23230,0.05],[23460,0.05],[23690,0.05],[23930,0.05],[24100,0.05],[24330,0.0],[24560,0.05],[24800,0.0],[25030,0.05],[25260,0.0],[25490,0.05],[25730,0.0],[25970,-0.02],[26250,0.05],[26360,-0.1],[26480,-0.25],[26660,-0.2]];
const c2020: Pt[] = [[0,0.05],[150,0.12],[300,0.05],[490,-0.1],[650,0.08],[800,0.05],[1000,-0.05],[1100,0.22],[1250,0.2],[1400,0.05],[1500,-0.05],[1600,0.13],[1750,0.0],[1850,0.2],[2000,0.05],[2100,-0.05],[2250,-0.05],[2400,0.0],[2500,-0.1],[2600,0.05],[2750,0.05],[2900,-0.1],[3000,0.0],[3100,-0.15],[3200,0.05],[3300,-0.3],[3500,-0.15],[3600,-0.56],[3700,-0.35],[3800,-0.35],[3900,0.1],[3950,0.35],[4100,0.3],[4200,0.0],[4300,-0.3],[4400,-0.7],[4450,-1.05],[4500,-0.45],[4600,-0.35],[4700,-0.55],[4800,-0.25],[4900,-0.95],[5000,0.4],[5100,-0.05],[5200,-0.15],[5300,0.2],[5400,-0.05],[5500,0.0],[5600,0.2],[5700,0.0],[5850,0.15],[6000,0.25],[6150,0.22],[6300,0.15],[6400,-0.05],[6500,-0.3],[6600,-0.25],[6700,-0.1],[6800,0.0],[6900,-0.05],[7000,-0.15],[7100,-0.05],[7200,-0.2],[7300,-0.1],[7400,-0.25],[7500,0.05],[7600,0.0],[7700,0.2],[7800,-0.2],[7950,0.0],[8100,0.25],[8300,0.35],[8350,-0.6],[8450,-0.3],[8500,0.0],[8600,0.1],[8750,-0.35],[8850,0.0],[9000,-0.05],[9200,-0.1],[9400,-0.1],[9600,-0.15],[9750,-0.1],[9900,-0.15],[10000,-0.05],[10200,-0.2],[10400,-0.05],[10600,-0.15],[10800,-0.2],[11000,-0.25],[11100,-0.45],[11200,-0.3],[11300,-0.35],[11400,-0.1],[11500,0.3],[11600,-0.1],[11700,0.1],[11800,0.05],[11900,0.1],[12000,-0.05],[12150,0.0],[12300,0.05],[12500,0.0],[12700,0.05],[12800,0.12],[12900,-0.2],[13020,-0.15],[13140,-0.1],[13310,0.05],[13430,0.15],[13520,0.3],[13610,0.45],[13720,-0.55],[13840,0.2],[13950,0.15],[14100,0.35],[14220,0.1],[14360,0.25],[14500,0.35],[14650,0.15],[14760,0.3],[14940,0.28],[15030,0.15],[15110,-0.45],[15230,-0.3],[15340,-0.35],[15460,-0.45],[15540,-0.15],[15630,0.2],[15730,0.35],[15810,-0.1],[15920,-0.35],[16040,0.1],[16120,0.25],[16210,0.5],[16330,-0.1],[16450,0.0],[16560,-0.15],[16650,-0.3],[16740,-0.1],[16850,-0.25],[16970,-0.55],[17030,-0.75],[17110,-1.45],[17200,-1.05],[17280,-0.9],[17350,-0.9],[17430,-0.5],[17550,-0.35],[17660,-0.25],[17780,-0.7],[17900,-1.2],[17980,-0.75],[18050,-0.75],[18130,-0.55],[18240,-0.25],[18360,-0.45],[18440,-0.9],[18510,-1.25],[18590,-0.5],[18710,-0.3],[18820,-0.2],[18940,-0.3],[19060,-0.35],[19210,-0.55],[19350,0.0],[19460,-0.05],[19580,0.1],[19690,-0.15],[19810,-0.45],[19930,0.0],[20040,0.1],[20160,-0.2],[20270,-0.45],[20390,-1.2],[20510,-1.2],[20620,-0.9],[20740,-0.55],[20850,-0.3],[20970,-0.15],[21090,-0.05],[21260,-0.1],[21380,0.0],[21490,0.05],[21670,-0.05],[21780,0.05],[21900,-0.05],[22070,0.1],[22190,-0.05],[22300,-0.3],[22420,-0.45],[22540,-0.25],[22620,-0.45],[22730,-0.15],[22880,-0.05],[22990,-0.2],[23100,-0.15],[23230,-0.05],[23410,0.1],[23580,0.05],[23750,0.0],[23930,0.0],[24040,-0.05],[24160,-0.1],[24330,0.05],[24510,-0.05],[24680,-0.05],[24850,-0.15],[24970,0.1],[25150,-0.1],[25320,-0.2],[25440,-0.05],[25560,0.05],[25730,-0.1],[25850,-0.05],[26020,0.1],[26130,0.15],[26250,-0.25],[26360,-0.45],[26480,-0.3],[26600,-0.55],[26680,-0.3]];
const c2021: Pt[] = [[0,0.1],[150,0.05],[300,0.1],[490,0.0],[650,0.12],[800,0.0],[1000,0.05],[1100,0.18],[1250,0.12],[1400,0.0],[1500,0.1],[1600,0.05],[1750,0.1],[1850,0.15],[2000,0.0],[2100,-0.08],[2250,0.0],[2400,-0.05],[2500,0.05],[2600,0.0],[2750,-0.05],[2900,0.05],[3000,-0.1],[3100,-0.05],[3200,0.1],[3300,-0.2],[3500,-0.2],[3600,-0.45],[3700,-0.4],[3800,-0.2],[3900,0.3],[3950,0.32],[4100,0.2],[4200,-0.1],[4300,-0.4],[4400,-0.85],[4450,-1.0],[4500,-0.55],[4600,-0.45],[4700,-0.6],[4800,-0.3],[4900,-0.9],[5000,0.35],[5100,-0.1],[5200,-0.1],[5300,0.15],[5400,0.0],[5500,-0.05],[5600,0.15],[5700,0.05],[5850,0.2],[6000,0.27],[6150,0.2],[6300,0.1],[6400,-0.1],[6500,-0.28],[6600,-0.2],[6700,-0.05],[6800,-0.05],[6900,-0.1],[7000,-0.1],[7100,-0.1],[7200,-0.15],[7300,-0.05],[7400,-0.2],[7500,0.0],[7600,-0.1],[7700,0.1],[7800,-0.15],[7950,0.05],[8100,0.3],[8300,0.3],[8350,-0.5],[8450,-0.2],[8500,-0.05],[8600,0.05],[8750,-0.3],[8850,-0.05],[9000,0.0],[9200,-0.05],[9400,-0.15],[9600,-0.1],[9750,-0.15],[9900,-0.1],[10000,-0.1],[10200,-0.15],[10400,-0.1],[10600,-0.1],[10800,-0.25],[11000,-0.2],[11100,-0.4],[11200,-0.35],[11300,-0.3],[11400,-0.05],[11500,0.25],[11600,-0.05],[11700,0.05],[11800,0.1],[11900,0.05],[12000,0.0],[12150,-0.05],[12300,0.0],[12500,0.05],[12700,0.0],[12800,0.1],[12900,-0.15],[13020,-0.2],[13140,-0.05],[13310,0.0],[13430,0.1],[13520,0.25],[13610,0.4],[13720,-0.5],[13840,0.15],[13950,0.2],[14100,0.3],[14220,0.15],[14360,0.2],[14500,0.3],[14650,0.2],[14760,0.25],[14940,0.25],[15030,0.1],[15110,-0.4],[15230,-0.35],[15340,-0.3],[15460,-0.4],[15540,-0.1],[15630,0.15],[15730,0.3],[15810,-0.15],[15920,-0.3],[16040,0.05],[16120,0.2],[16210,0.4],[16330,-0.05],[16450,-0.05],[16560,-0.1],[16650,-0.35],[16740,-0.15],[16850,-0.3],[16970,-0.5],[17030,-0.7],[17110,-1.3],[17200,-1.0],[17280,-0.95],[17350,-0.85],[17430,-0.45],[17550,-0.4],[17660,-0.3],[17780,-0.65],[17900,-1.1],[17980,-0.7],[18050,-0.8],[18130,-0.5],[18240,-0.3],[18360,-0.4],[18440,-0.85],[18510,-1.15],[18590,-0.45],[18710,-0.35],[18820,-0.25],[18940,-0.25],[19060,-0.3],[19210,-0.5],[19350,0.05],[19460,-0.1],[19580,0.05],[19690,-0.2],[19810,-0.4],[19930,-0.05],[20040,0.05],[20160,-0.25],[20270,-0.5],[20390,-1.15],[20510,-1.15],[20620,-0.85],[20740,-0.5],[20850,-0.25],[20970,-0.1],[21090,-0.1],[21260,-0.05],[21380,0.05],[21490,0.0],[21670,0.0],[21780,0.0],[21900,0.0],[22070,0.15],[22190,-0.1],[22300,-0.25],[22420,-0.4],[22540,-0.3],[22620,-0.4],[22730,-0.1],[22880,-0.1],[22990,-0.15],[23100,-0.1],[23230,0.0],[23410,0.08],[23580,0.1],[23750,0.05],[23930,-0.05],[24040,0.0],[24160,-0.05],[24330,0.1],[24510,0.0],[24680,-0.1],[24850,-0.1],[24970,0.05],[25150,-0.05],[25320,-0.15],[25440,0.0],[25560,0.0],[25730,-0.05],[25850,0.0],[26020,0.05],[26130,0.1],[26250,-0.2],[26360,-0.4],[26480,-0.35],[26600,-0.45],[26680,-0.35]];
const c2022: Pt[] = [[0,0.08],[150,0.15],[300,0.12],[490,0.05],[650,0.15],[800,0.05],[950,0.0],[1000,-0.25],[1100,0.3],[1250,0.3],[1400,0.1],[1500,0.0],[1600,0.1],[1750,-0.05],[1850,0.1],[2000,0.05],[2100,0.0],[2250,-0.05],[2400,0.05],[2500,-0.05],[2600,0.08],[2750,0.0],[2900,0.05],[3000,-0.05],[3100,0.0],[3200,0.2],[3300,-0.15],[3500,-0.1],[3600,-0.45],[3700,-0.3],[3800,0.05],[3900,0.0],[3950,0.15],[4100,0.1],[4250,0.38],[4300,-0.2],[4400,-0.6],[4450,-0.95],[4500,-0.5],[4600,-0.5],[4700,-0.55],[4800,-0.35],[4900,-0.9],[5000,0.15],[5100,-0.15],[5200,-0.05],[5300,0.1],[5400,-0.05],[5500,-0.1],[5600,0.1],[5700,0.05],[5850,0.1],[6000,0.22],[6150,0.2],[6300,0.1],[6400,0.0],[6500,-0.2],[6600,-0.15],[6700,0.0],[6800,-0.05],[6900,0.0],[7000,-0.1],[7100,0.0],[7200,-0.15],[7300,0.0],[7400,-0.2],[7500,0.0],[7580,0.1],[7600,0.75],[7720,0.75],[7750,0.3],[7800,-0.95],[7950,0.05],[8100,0.15],[8300,0.2],[8350,-0.4],[8400,-0.85],[8500,-0.1],[8600,0.0],[8750,-0.3],[8850,-0.1],[9000,-0.1],[9200,-0.15],[9400,-0.05],[9600,-0.25],[9750,-0.15],[9900,-0.05],[10000,-0.1],[10200,-0.15],[10400,0.0],[10600,-0.05],[10800,-0.15],[11000,-0.2],[11100,-0.4],[11200,-0.35],[11300,-0.2],[11400,0.0],[11500,0.5],[11600,-0.38],[11700,0.15],[11800,0.15],[11900,0.1],[12000,0.05],[12150,-0.05],[12300,0.05],[12500,0.0],[12700,0.08],[12800,0.05],[12900,-0.1],[13020,-0.45],[13140,-0.2],[13310,-0.05],[13430,0.1],[13520,0.2],[13610,0.5],[13720,-0.1],[13840,0.2],[13950,0.1],[14100,0.2],[14220,0.15],[14360,0.3],[14500,0.2],[14650,0.2],[14760,0.18],[14940,0.2],[15030,0.15],[15110,-0.1],[15230,-0.1],[15340,-0.2],[15460,-0.3],[15540,-0.1],[15630,0.1],[15730,0.2],[15810,0.0],[15920,-0.15],[16040,0.15],[16120,0.2],[16210,0.4],[16330,-0.05],[16450,-0.05],[16560,-0.2],[16650,-0.35],[16740,-0.2],[16850,-0.2],[16970,-0.45],[17030,-0.6],[17110,-1.0],[17200,-0.85],[17280,-0.95],[17350,-1.1],[17430,-0.45],[17550,-0.35],[17660,-0.2],[17780,-0.7],[17900,-1.05],[17980,-0.7],[18050,-0.65],[18130,-0.5],[18240,-0.2],[18360,-0.35],[18440,-0.7],[18510,-1.0],[18590,-0.45],[18710,-0.25],[18820,-0.2],[18940,-0.2],[19060,-0.3],[19210,-0.35],[19350,0.2],[19460,0.0],[19580,0.05],[19690,-0.1],[19810,-0.25],[19930,0.05],[20040,0.1],[20160,-0.15],[20270,-0.4],[20390,-0.9],[20510,-0.9],[20620,-0.9],[20740,-0.55],[20850,-0.2],[20970,-0.05],[21090,0.0],[21260,-0.05],[21380,0.05],[21490,0.05],[21670,0.0],[21780,0.05],[21900,0.0],[22070,0.2],[22190,0.0],[22300,-0.2],[22420,-0.35],[22540,-0.2],[22620,-0.3],[22730,-0.1],[22880,0.0],[22990,-0.15],[23100,-0.1],[23230,0.0],[23410,0.1],[23580,0.05],[23750,0.05],[23930,0.0],[24040,0.0],[24160,-0.15],[24330,0.05],[24510,0.0],[24680,0.0],[24850,-0.1],[24970,0.1],[25150,-0.05],[25320,-0.1],[25440,0.05],[25560,0.1],[25730,-0.05],[25850,0.0],[26020,0.05],[26130,0.1],[26250,-0.15],[26360,-0.3],[26480,-0.2],[26600,-0.2],[26680,-0.1]];

const panelData: Pt[][][] = [
  [a2018, a2019, a2020, a2021, a2022],
  [b2018, b2019, b2020, b2021, b2022],
  [c2018, c2019, c2020, c2021, c2022],
];

const gridBoxes = [
  { left: 103, top: 52, width: 774, height: 292 },
  { left: 102, top: 374, width: 775, height: 289 },
  { left: 101, top: 696, width: 776, height: 292 },
];
const nameGaps = [42, 50, 47];
const labelYs = [60, 381, 702];

export default function App() {
  const ref = useRef<HTMLDivElement | null>(null);

  useEffect(() => {
    document.body.style.margin = "0";
    if (!ref.current) return;
    const chart = echarts.init(ref.current, null, { renderer: "svg" });

    const gray = "#7f7f7f";
    const gridLine = { show: true, lineStyle: { color: "#d9d9d9", width: 1 } };

    const series: any[] = [];
    panelData.forEach((sets, p) => {
      sets.forEach((data, s) => {
        series.push({
          type: "line",
          name: seriesNames[s],
          xAxisIndex: p,
          yAxisIndex: p,
          data,
          showSymbol: false,
          symbol: "none",
          lineStyle: { width: 1.5, color: seriesColors[s] },
          itemStyle: { color: seriesColors[s] },
          emphasis: { disabled: true },
        });
      });
    });

    chart.setOption({
      animation: false,
      backgroundColor: "#ffffff",
      textStyle: { fontFamily: "Roboto, 'Noto Sans', sans-serif" },
      grid: gridBoxes.map((g) => ({ ...g, containLabel: false, outerBoundsMode: "none" })),
      xAxis: gridBoxes.map((_, i) => ({
        type: "value",
        gridIndex: i,
        min: 0,
        max: 27000,
        interval: 1000,
        axisLine: { show: false },
        axisTick: { show: false },
        axisLabel: {
          show: i === 2,
          rotate: -90,
          margin: 7,
          color: gray,
          fontSize: 10,
          formatter: (v: number) => String(v),
        },
        splitLine: gridLine,
      })),
      yAxis: gridBoxes.map((_, i) => ({
        type: "value",
        gridIndex: i,
        min: yMins[i],
        max: yMaxs[i],
        interval: 0.25,
        name: yAxisNames[i],
        nameLocation: "middle",
        nameGap: nameGaps[i],
        nameTextStyle: { color: gray, fontSize: 10.5 },
        axisLine: { show: false },
        axisTick: { show: false },
        axisLabel: {
          margin: 10,
          color: gray,
          fontSize: 10,
          formatter: (v: number) => v.toFixed(2),
        },
        splitLine: gridLine,
      })),
      legend: {
        data: seriesNames,
        left: 202,
        top: 1054,
        padding: 0,
        icon: "rect",
        itemWidth: 15,
        itemHeight: 2,
        itemGap: 25,
        textStyle: { fontFamily: "Roboto", fontSize: 12.5, color: "#222", padding: [0, 0, 0, 4] },
      },
      series,
    });

    const baseGraphics: any[] = [
      {
        type: "rect",
        silent: true,
        shape: { x: 7, y: 7, width: 1000, height: 1200 },
        style: { fill: "none", stroke: "#595959", lineWidth: 2 },
      },
      ...panelLabels.map((t, i) => ({
        type: "text",
        silent: true,
        x: 36,
        y: labelYs[i],
        style: { text: t, fontSize: 26, fontFamily: "'Open Sans', sans-serif", fill: "#111", verticalAlign: "middle" },
      })),
      {
        type: "text",
        silent: true,
        x: 43,
        y: 1061,
        style: { text: "Diferència altimètrica:", fontSize: 15, fontFamily: "Roboto", fill: "#222", verticalAlign: "middle" },
      },
      {
        type: "text",
        silent: true,
        x: 479,
        y: 1044,
        style: { text: "Distància respecte al límit nord (m)", fontSize: 10, fontFamily: "Roboto", fill: gray, align: "center", verticalAlign: "middle" },
      },
    ];

    const placeGraphics = placeNames.map((name, k) => {
      const px = chart.convertToPixel({ gridIndex: 2 } as any, [placeDistances[k], yMins[2]]) as number[];
      return {
        type: "text",
        silent: true,
        x: px[0],
        y: 985,
        rotation: Math.PI / 2,
        style: { text: name, fontSize: 18, fontFamily: "'Open Sans', sans-serif", fill: "#111", align: "left", verticalAlign: "middle" },
      };
    });

    chart.setOption({ graphic: [...baseGraphics, ...placeGraphics] });

    return () => {
      chart.dispose();
    };
  }, []);

  return <div ref={ref} style={{ width: 904, height: 1097, background: "#fff" }} />;
}
